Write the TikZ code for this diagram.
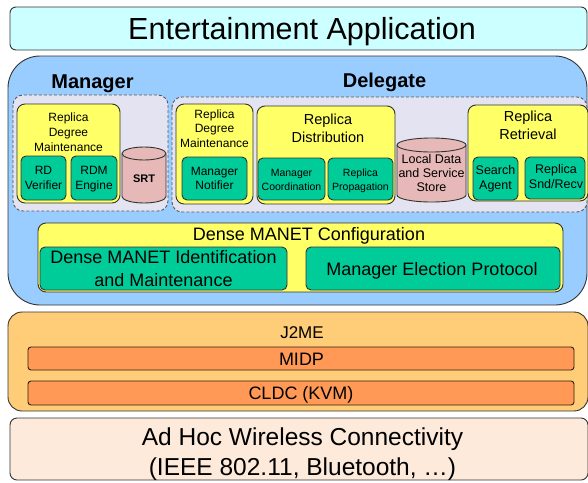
\documentclass[tikz,border=0pt]{standalone}
\usepackage{fontspec}
\setmainfont{Liberation Sans}
\definecolor{cTop}{HTML}{CCFFFF}
\definecolor{cBlue}{HTML}{99CCFF}
\definecolor{cLav}{HTML}{E3E3F1}
\definecolor{cYel}{HTML}{FFFF66}
\definecolor{cGrn}{HTML}{00CC99}
\definecolor{cPink}{HTML}{E6B9B8}
\definecolor{cJtwo}{HTML}{FFCC77}
\definecolor{cMidp}{HTML}{FF9955}
\definecolor{cAd}{HTML}{FDEADA}
\definecolor{cLine}{HTML}{333333}
\tikzset{
  layer/.style={draw=cLine, line width=0.9pt},
  topbox/.style={layer, fill=cTop, rounded corners=6pt},
  bluebox/.style={layer, fill=cBlue, rounded corners=32pt},
  groupbox/.style={draw=black!65, line width=0.9pt, dash pattern=on 3pt off 2pt, fill=cLav, rounded corners=10pt},
  yelbox/.style={layer, fill=cYel, rounded corners=8pt},
  grnbox/.style={layer, fill=cGrn, rounded corners=5pt},
  cylbox/.style={layer, fill=cPink},
  jbox/.style={layer, fill=cJtwo, rounded corners=14pt},
  midpbox/.style={draw=black!75!brown, line width=0.9pt, fill=cMidp, rounded corners=3pt},
  adbox/.style={layer, fill=cAd, rounded corners=7pt},
  lbl/.style={inner sep=0pt, align=center, text=black},
}
\begin{document}
\begin{tikzpicture}[x=1pt,y=-1pt]
\useasboundingbox (0,0) rectangle (588,482);
\fill[white] (0,0) rectangle (588,482);

% top application layer
\path[topbox] (10,7) rectangle (587,50);
\node[lbl, anchor=base, font=\fontsize{30.5}{36}\selectfont] (ent) at (302,39.9) {Entertainment Application};

% blue middleware layer
\path[bluebox] (8,56) rectangle (587,305);
\node[lbl, anchor=base, font=\fontsize{20}{24}\selectfont\bfseries] (mgr) at (92.5,88.2) {Manager};
\node[lbl, anchor=base, font=\fontsize{20}{24}\selectfont\bfseries] (del) at (384.5,87.2) {Delegate};

% dashed groups
\path[groupbox] (13,95) rectangle (168,211);
\path[groupbox] (172,97) rectangle (587,212);

% Manager: Replica Degree Maintenance
\path[yelbox] (17,104) rectangle (120,203);
\node[lbl, font=\fontsize{12}{15}\selectfont] (mrdm) at (68.5,132) {Replica\\Degree\\Maintenance};
\path[grnbox] (21,156) rectangle (66,200);
\node[lbl, font=\fontsize{12}{14.5}\selectfont] (rdv) at (43.5,178) {RD\\Verifier};
\path[grnbox] (71,156) rectangle (117,200);
\node[lbl, font=\fontsize{12}{14.5}\selectfont] (rdme) at (94,179.3) {RDM\\Engine};

% SRT cylinder
\path[cylbox] (122,153.5) -- (122,196.5) arc[start angle=180, end angle=360, x radius=22pt, y radius=6.5pt] -- (166,153.5) arc[start angle=0, end angle=180, x radius=22pt, y radius=6.5pt] -- cycle;
\draw[layer] (122,153.5) arc[start angle=180, end angle=360, x radius=22pt, y radius=6.5pt];
\node[lbl, anchor=base, font=\fontsize{11}{13}\selectfont\bfseries] (srt) at (144,182) {SRT};

% Delegate: Replica Degree Maintenance
\path[yelbox] (176,104) rectangle (253,204);
\node[lbl, font=\fontsize{12}{14.5}\selectfont] (drdm) at (214.5,128.5) {Replica\\Degree\\Maintenance};
\path[grnbox] (182,157) rectangle (247,200);
\node[lbl, font=\fontsize{12}{13.5}\selectfont] (mnot) at (214.5,178.5) {Manager\\Notifier};

% Replica Distribution
\path[yelbox] (257,106) rectangle (395,204);
\node[lbl, font=\fontsize{14.5}{18}\selectfont] (rdist) at (328,128) {Replica\\Distribution};
\path[grnbox] (258,158) rectangle (325,200);
\node[lbl, font=\fontsize{10.5}{14}\selectfont] (mcoord) at (291.5,180) {Manager\\Coordination};
\path[grnbox] (328,158) rectangle (393,200);
\node[lbl, font=\fontsize{10.5}{14}\selectfont] (rprop) at (360.5,181.1) {Replica\\Propagation};

% Local data cylinder
\path[cylbox] (397,145) -- (397,195) arc[start angle=180, end angle=360, x radius=34.5pt, y radius=7pt] -- (466,145) arc[start angle=0, end angle=180, x radius=34.5pt, y radius=7pt] -- cycle;
\draw[layer] (397,145) arc[start angle=180, end angle=360, x radius=34.5pt, y radius=7pt];
\node[lbl, font=\fontsize{12.5}{14}\selectfont] (lds) at (431.5,173) {Local Data\\and Service\\Store};

% Replica Retrieval
\path[yelbox] (468,105) rectangle (588,201);
\node[lbl, font=\fontsize{14.5}{18}\selectfont] (rret) at (528,125) {Replica\\Retrieval};
\path[grnbox] (473,157) rectangle (518,200);
\node[lbl, font=\fontsize{12.5}{15}\selectfont] (sag) at (495.5,178.8) {Search\\Agent};
\path[grnbox] (525,157) rectangle (585,199);
\node[lbl, font=\fontsize{12.5}{15}\selectfont] (rsr) at (556,176.5) {Replica\\Snd/Recv};

% Dense MANET Configuration
\path[yelbox] (38,223) rectangle (563,292);
\node[lbl, anchor=base, font=\fontsize{18}{22}\selectfont] (dmc) at (309,240.4) {Dense MANET Configuration};
\path[grnbox] (40,247) rectangle (287,290);
\node[lbl, font=\fontsize{18}{23}\selectfont] (dmi) at (163.5,268.5) {Dense MANET Identification\\and Maintenance};
\path[grnbox] (306,247) rectangle (560,290);
\node[lbl, anchor=base, font=\fontsize{18}{22}\selectfont] (mep) at (432,275.4) {Manager Election Protocol};

% J2ME layer
\path[jbox] (8,312) rectangle (588,411);
\node[lbl, anchor=base, font=\fontsize{17}{20}\selectfont] (j2me) at (302,338.6) {J2ME};
\path[midpbox] (28,347) rectangle (574,370);
\node[lbl, anchor=base, font=\fontsize{18}{22}\selectfont] (midp) at (301.5,365.4) {MIDP};
\path[midpbox] (28,381) rectangle (574,405);
\node[lbl, anchor=base, font=\fontsize{18}{22}\selectfont] (cldc) at (301,399.4) {CLDC (KVM)};

% Ad hoc connectivity layer
\path[adbox] (10,418) rectangle (588,480);
\node[lbl, font=\fontsize{24.5}{30}\selectfont] (adhoc) at (302.5,454.6) {Ad Hoc Wireless Connectivity\\(IEEE 802.11, Bluetooth, …)};
\end{tikzpicture}
\end{document}
